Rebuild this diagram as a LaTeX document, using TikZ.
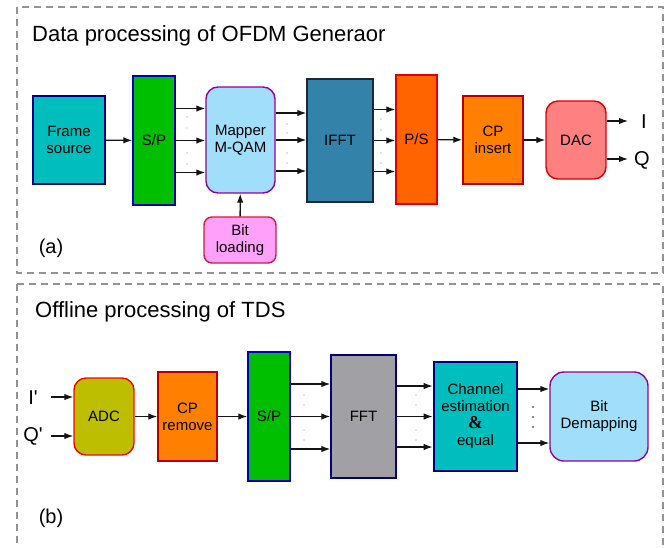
\documentclass[tikz,border=0pt]{standalone}
\usepackage{fontspec}
\setmainfont{Liberation Sans}
\newfontfamily\ampfont{Liberation Serif}
\usetikzlibrary{arrows.meta,positioning}
\definecolor{teal1}{RGB}{0,190,190}
\definecolor{navy}{RGB}{0,0,128}
\definecolor{grass}{RGB}{0,190,0}
\definecolor{royal}{RGB}{0,0,190}
\definecolor{sky}{RGB}{160,222,250}
\definecolor{plum}{RGB}{150,0,150}
\definecolor{pinky}{RGB}{255,160,250}
\definecolor{crimson}{RGB}{200,30,60}
\definecolor{steel}{RGB}{50,130,170}
\definecolor{slate}{RGB}{30,40,50}
\definecolor{blood}{RGB}{255,100,0}
\definecolor{redline}{RGB}{220,0,0}
\definecolor{amber}{RGB}{255,128,0}
\definecolor{rust}{RGB}{180,0,0}
\definecolor{salmon}{RGB}{255,128,128}
\definecolor{olive1}{RGB}{190,190,0}
\definecolor{ash}{RGB}{160,160,165}
\definecolor{ink}{RGB}{20,20,20}
\tikzset{
  >={Latex[length=9pt,width=6.5pt]},
  blk/.style 2 args={draw=#1,fill=#2,line width=1.4pt,align=center,inner sep=0pt,
    font=\fontsize{15}{17}\selectfont},
  rblk/.style 2 args={blk={#1}{#2},rounded corners=12pt},
  flow/.style={->,line width=1.3pt,draw=ink},
  panel/.style={draw=gray!85,line width=1.4pt,dash pattern=on 7pt off 5pt},
  title/.style={anchor=west,inner sep=0pt,font=\fontsize{22}{24}\selectfont},
  lab/.style={inner sep=0pt,font=\fontsize{20}{22}\selectfont},
}

\begin{document}
\begin{tikzpicture}[x=1pt,y=-1pt]
  \useasboundingbox (0,0) rectangle (671,547);
  % panels
  \draw[panel] (17,7) rectangle (663,273);
  \draw[panel] (17,284) -- (663,284) -- (663,560) (17,284) -- (17,560);
  \node[title] at (32,36) {Data processing of OFDM Generaor};
  \node[title] at (35,312) {Offline processing of TDS};
  \node[lab] at (51,248) {(a)};
  \node[lab] at (51,518) {(b)};

  % (a) transmitter chain
  \node[blk={navy}{teal1},line width=2pt,minimum width=72pt,minimum height=88pt] (frm) at (69,140) {Frame\\source};
  \node[blk={royal}{grass},minimum width=42pt,minimum height=129pt] (spa) at (154,140.5) {S/P};
  \node[rblk={plum}{sky},minimum width=69pt,minimum height=106pt] (map) at (240.5,140) {Mapper\\M-QAM};
  \node[rblk={crimson}{pinky},rounded corners=8pt,minimum width=72pt,minimum height=46pt] (bitl) at (240,240) {Bit\\loading};
  \node[blk={slate}{steel},minimum width=66pt,minimum height=123pt] (ifft) at (340,140.5) {IFFT};
  \node[blk={redline}{blood},minimum width=41pt,minimum height=129pt] (ps) at (416.5,139.5) {P/S};
  \node[blk={rust}{amber},minimum width=60pt,minimum height=88pt] (cpi) at (493,140) {CP\\insert};
  \node[rblk={redline}{salmon},minimum width=60pt,minimum height=78pt] (dac) at (576,140) {DAC};
  \coordinate (iend) at (628,121);
  \coordinate (qend) at (628,159);
  \node[lab,anchor=west] (iout) at (641,122) {I};
  \node[lab,anchor=west] (qout) at (634,160) {Q};

  \draw[flow] (frm) -- (spa);
  \foreach \d in {32,0,-32} \draw[flow] ([yshift=\d pt]spa.east) -- ([yshift=\d pt]spa.east -| map.west);
  \foreach \d in {27,0,-31} \draw[flow] ([yshift=\d pt]map.east) -- ([yshift=\d pt]map.east -| ifft.west);
  \foreach \d in {31,0,-31} \draw[flow] ([yshift=\d pt]ifft.east) -- ([yshift=\d pt]ifft.east -| ps.west);
  \draw[flow] (bitl) -- (map);
  \draw[flow] (ps) -- (cpi);
  \draw[flow] (cpi) -- (dac);
  \draw[flow] (dac.east |- iend) -- (iend);
  \draw[flow] (dac.east |- qend) -- (qend);
  \foreach \x/\y in {187/117,187/128,187/153,187/164,287/124,287/133,287/153,287/163,381/119,381/130,381/153,381/163}
    \fill[gray] (\x,\y) circle (0.7);

  % (b) receiver chain
  \coordinate (iin) at (51,397);
  \coordinate (qin) at (51,436);
  \node[lab] (ilab) at (33,398) {I\textquotesingle};
  \node[lab] (qlab) at (33,436) {Q\textquotesingle};
  \node[rblk={red}{olive1},minimum width=60pt,minimum height=77pt] (adc) at (104,416.5) {ADC};
  \node[blk={rust}{amber},minimum width=59pt,minimum height=89pt] (cpr) at (187.5,416.5) {CP\\remove};
  \node[blk={royal}{grass},minimum width=42pt,minimum height=129pt] (spb) at (269,416.5) {S/P};
  \node[blk={navy}{ash},minimum width=65pt,minimum height=123pt] (fft) at (363.5,416.5) {FFT};
  \node[blk={navy}{teal1},line width=2.6pt,minimum width=83pt,minimum height=109pt] (chan) at (475.5,416.5)
    {Channel\\estimation\\{\ampfont\bfseries\fontsize{18}{17}\selectfont\&}\\equal};
  \node[rblk={plum}{sky},rounded corners=14pt,minimum width=98pt,minimum height=89pt] (bdm) at (599,416.5) {Bit\\Demapping};

  \draw[flow] (iin) -- (iin -| adc.west);
  \draw[flow] (qin) -- (qin -| adc.west);
  \draw[flow] (adc) -- (cpr);
  \draw[flow] (cpr) -- (spb);
  \foreach \d in {32.5,0,-32.5} \draw[flow] ([yshift=\d pt]spb.east) -- ([yshift=\d pt]spb.east -| fft.west);
  \foreach \d in {30.5,0,-30.5} \draw[flow] ([yshift=\d pt]fft.east) -- ([yshift=\d pt]fft.east -| chan.west);
  \foreach \d in {27.5,-26.5} \draw[flow] ([yshift=\d pt]chan.east) -- ([yshift=\d pt]chan.east -| bdm.west);
  \foreach \x/\y in {304/395,304/405,304/430,304/440,416/395,416/405,416/430,416/440}
    \fill[gray] (\x,\y) circle (0.7);
  \foreach \y in {407,417,427} \fill[ink] (533,\y) circle (0.8);
\end{tikzpicture}
\end{document}
